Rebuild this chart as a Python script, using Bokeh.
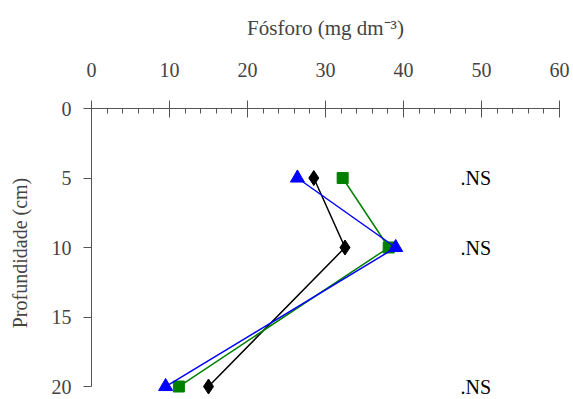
from bokeh.plotting import figure
from bokeh.models import Range1d, FixedTicker, SingleIntervalTicker, Label
from bokeh.embed import file_html
from bokeh.resources import INLINE

depth = [5, 10, 20]
black_vals = [28.5, 32.5, 15.0]
green_vals = [32.2, 38.1, 11.2]
blue_vals = [26.4, 39.0, 9.5]
ns_labels = [".NS", ".NS", ".NS"]
ns_x = 47.3
y_ticks = [0, 5, 10, 15, 20]

FONT = "'Liberation Serif', 'Times New Roman', serif"
FS = "20px"

p = figure(width=573, height=399, output_backend="svg", toolbar_location=None,
           x_axis_location="above", x_range=Range1d(0, 60), y_range=Range1d(20.79, 0),
           min_border_left=91, min_border_right=14, min_border_top=108, min_border_bottom=2)
p.outline_line_color = None
p.xgrid.visible = False
p.ygrid.visible = False
p.background_fill_color = "white"
p.border_fill_color = "white"

xa = p.xaxis[0]
xa.ticker = SingleIntervalTicker(interval=10, num_minor_ticks=5)
xa.axis_label = "Fósforo (mg dm⁻³)"
xa.axis_label_text_font = FONT
xa.axis_label_text_font_style = "normal"
xa.axis_label_text_font_size = "21px"
xa.axis_label_standoff = 20
xa.major_label_text_font = FONT
xa.major_label_text_font_size = FS
xa.major_label_standoff = 24
xa.major_tick_in = 9
xa.major_tick_out = 8
xa.minor_tick_in = 5
xa.minor_tick_out = 0
xa.axis_line_color = "#555555"
xa.major_tick_line_color = "#555555"
xa.minor_tick_line_color = "#555555"

ya = p.yaxis[0]
ya.ticker = FixedTicker(ticks=y_ticks)
ya.bounds = (0, 20)
ya.axis_label = "Profundidade (cm)"
ya.axis_label_text_font = FONT
ya.axis_label_text_font_style = "normal"
ya.axis_label_text_font_size = FS
ya.axis_label_standoff = 18
ya.major_label_text_font = FONT
ya.major_label_text_font_size = FS
ya.major_label_standoff = 12
ya.major_tick_in = 0
ya.major_tick_out = 8
ya.minor_tick_line_color = None
ya.axis_line_color = "#555555"
ya.major_tick_line_color = "#555555"

p.line(black_vals, depth, line_color="black", line_width=1.5)
p.scatter(black_vals, depth, marker="diamond", size=15, color="black")
p.line(green_vals, depth, line_color="green", line_width=1.5)
p.scatter(green_vals, depth, marker="square", size=11, color="green")
p.line(blue_vals, depth, line_color="blue", line_width=1.5)
p.scatter(blue_vals, depth, marker="triangle", size=14, color="blue")

for d, t in zip(depth, ns_labels):
    p.add_layout(Label(x=ns_x, y=d, text=t, text_font=FONT, text_font_size=FS,
                       text_baseline="middle", text_align="left", text_color="black"))

open("out.html", "w").write(file_html(p, INLINE))
